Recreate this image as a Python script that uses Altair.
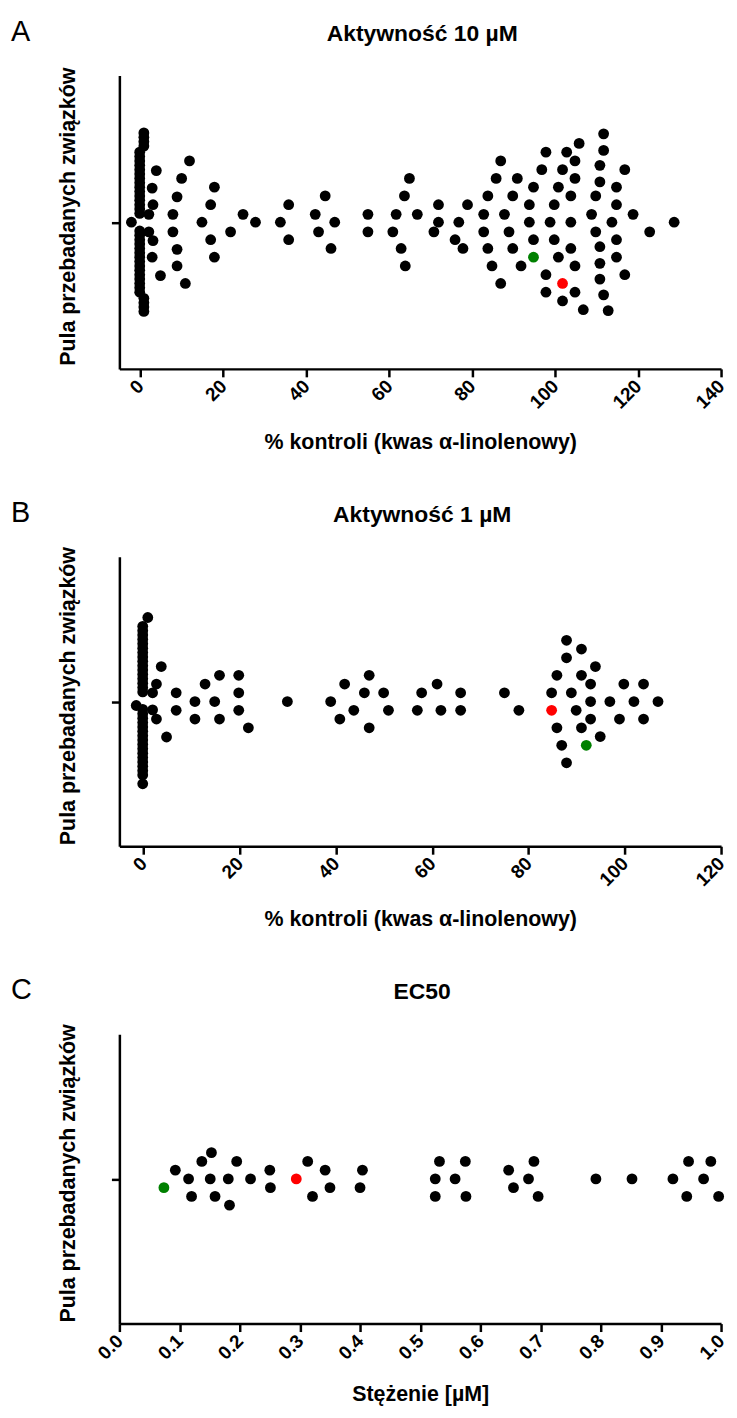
import altair as alt
import pandas as pd

FONT = "Liberation Sans"
ROW_PX = 8.8  # vertical pixel size of one swarm row step
W = 605

# ---------------- Panel A: Aktywność 10 µM ----------------
# compounds stacked at ~0 %
a_col_x = [-0.1] * 30 + [0.9] * 8
a_col_row = [8.0, 7.5, 7.0, 6.5, 6.0, 5.5, 5.0, 4.5, 4.0, 3.5, 3.0, 2.5, 2.0, 1.5, 1.0,
             -1.0, -1.5, -2.0, -2.5, -3.0, -3.5, -4.0, -4.5, -5.0, -5.5, -6.0, -6.5, -7.0, -7.5, -8.0,
             10.2, 9.7, 9.2, 8.7, -8.7, -9.2, -9.7, -10.2]
a_x = [3.9, 2.9, 3.1, 2.1, 2.1, 3.1, 2.9, 4.9, -2.1,
       11.9, 10.0, 8.9, 7.9, 7.9, 8.9, 8.9, 10.9,
       17.9, 17.0, 14.9, 17.0, 17.9, 21.8, 24.8, 27.8,
       33.8, 35.8, 35.8, 42.2, 43.0, 44.6, 46.9, 46.0,
       54.9, 54.9, 61.7, 60.9, 63.7, 64.9, 66.8, 62.9, 63.9,
       71.9, 71.9, 70.8, 76.8, 75.9, 78.9, 77.8,
       83.8, 82.8, 82.8, 83.8, 84.8, 85.8, 86.9, 86.9, 87.8, 88.9,
       89.8, 89.8, 90.9, 91.8, 93.8, 93.8, 94.8, 94.8,
       96.8, 97.8, 97.8, 97.8, 98.8, 99.8, 99.8, 100.8, 100.8,
       101.8, 101.8, 102.8, 103.8, 103.8, 103.8,
       104.8, 104.8, 104.8, 104.8, 105.8, 106.8,
       108.8, 109.8, 109.8, 110.8, 110.8, 110.8, 110.8, 110.8,
       111.7, 111.7, 111.7, 112.8, 113.7,
       114.8, 114.8, 114.8, 114.8, 116.8, 116.8, 118.8, 122.8, 128.7]
a_row = [5.9, 3.9, 2.0, 0.9, -1.1, -2.1, -4.0, -6.1, 0.0,
         7.0, 5.0, 2.9, 0.9, -1.1, -3.1, -5.0, -7.0,
         4.0, 2.0, 0.0, -2.0, -4.0, -1.1, 0.9, 0.0,
         0.0, 2.0, -2.0, 0.9, -1.1, 3.0, 0.0, -3.0,
         0.9, -1.1, 0.9, -1.1, 3.0, 5.0, 0.9, -3.0, -5.0,
         2.0, 0.0, -1.1, 0.0, -2.0, 2.0, -3.0,
         3.0, 0.9, -1.1, -3.0, -5.0, 5.0, 7.0, -7.0, 0.9, -1.1,
         3.0, -3.0, 5.0, -5.0, 2.0, 0.0, 4.0, -2.0,
         6.0, 8.0, -6.0, -8.0, 0.0, 2.0, -2.0, 4.0, -4.0,
         6.0, -9.0, 8.0, 3.0, 0.0, -3.0,
         7.0, 5.0, -5.0, -8.0, 9.0, -10.0,
         0.9, 3.0, -1.1, 6.5, 4.6, -2.8, -4.7, -6.5,
         10.1, 8.2, -8.3, -10.1, 0.0,
         4.0, 2.0, -2.0, -4.0, 6.0, -6.0, 0.9, -1.1, 0.0]
a_red = (101.8, -7.0)
a_green = (94.8, -4.0)

# ---------------- Panel B: Aktywność 1 µM ----------------
b_col_x = [-0.15] * 33 + [0.9]
b_col_row = [8.6, 8.1, 7.6, 7.1, 6.6, 6.1, 5.6, 5.1, 4.6, 4.1, 3.6, 3.1, 2.6, 2.1, 1.6, 1.1,
             -0.9, -1.4, -1.9, -2.4, -2.9, -3.4, -3.9, -4.4, -4.9, -5.4, -5.9, -6.4, -6.9,
             -7.4, -7.9, -8.4, -9.4, 9.6]
b_x = [-1.5, 3.7, 2.7, 1.9, 1.9, 2.7, 4.8, 6.8, 6.8, 10.7, 10.7, 12.8, 14.8,
       15.8, 15.8, 19.8, 19.8, 19.8, 21.8, 29.9,
       38.9, 40.8, 41.8, 43.7, 45.9, 46.9, 46.9, 49.9, 50.9,
       56.9, 57.8, 61.0, 61.8, 65.9, 65.9, 75.0, 78.0,
       84.8, 85.9, 85.9, 86.9, 87.9, 87.9, 87.9, 88.9, 89.9,
       91.0, 91.0, 91.0, 92.9, 92.9, 92.9, 93.9, 94.9,
       96.9, 98.9, 99.8, 101.9, 103.9, 103.9, 106.9]
b_row = [-0.45, 4.0, 2.0, 1.0, -0.95, -2.0, -4.05, 1.0, -1.0, 0.0, -2.0, 2.0, 0.0,
         3.0, -2.0, 3.0, 1.0, -1.0, -3.0, 0.0,
         0.0, -2.0, 2.0, -1.0, 1.0, 3.0, -3.0, 1.0, -1.0,
         -1.0, 1.0, 2.0, -1.0, 1.0, -1.0, 1.0, -1.0,
         1.0, 3.0, -3.0, -5.0, 7.0, 5.0, -7.0, 1.0, -1.0,
         6.0, 3.0, -3.0, 2.0, 0.0, -2.0, 4.0, -4.0,
         0.0, -2.0, 2.0, 0.0, 2.0, -2.0, 0.0]
b_red = (84.8, -1.0)
b_green = (92.0, -5.0)

# ---------------- Panel C: EC50 ----------------
c_x = [0.093, 0.115, 0.120, 0.137, 0.151, 0.153, 0.159, 0.181, 0.183, 0.195,
       0.218, 0.250, 0.251, 0.313, 0.321, 0.342, 0.350, 0.404, 0.400,
       0.532, 0.525, 0.525, 0.558, 0.575, 0.576,
       0.647, 0.655, 0.680, 0.689, 0.696,
       0.792, 0.852, 0.920, 0.943, 0.946, 0.971, 0.983, 0.996]
c_row = [1, 0, -2, 2, 0, 3, -2, 0, -3, 2,
         0, 1, -1, 2, -2, 1, -1, 1, -1,
         2, 0, -2, 0, 2, -2,
         1, -1, 0, 2, -2,
         0, 0, 0, -2, 2, 0, 2, -2]
c_red = (0.294, 0)
c_green = (0.074, -1)

Y_TITLE = "Pula przebadanych związków"


def frame(col_x, col_row, xs, rows, red, green):
    x = list(col_x) + list(xs) + [red[0], green[0]]
    r = list(col_row) + list(rows) + [red[1], green[1]]
    g = ["k"] * (len(col_x) + len(xs)) + ["r", "g"]
    return pd.DataFrame({"x": x, "row": r, "grp": g})


def panel(df, title, letter, xtitle, xdom, xvals, xfmt, h, xty):
    half = h / 2 / ROW_PX
    pts = alt.Chart(df).mark_circle(size=118, opacity=1).encode(
        x=alt.X("x:Q",
                scale=alt.Scale(domain=xdom, nice=False, zero=False),
                axis=alt.Axis(values=xvals, format=xfmt, title=xtitle,
                              labelAngle=-45, labelAlign="right", labelBaseline="middle",
                              labelPadding=6, labelFlush=False, labelOverlap=False,
                              titleY=xty, titleBaseline="middle")),
        y=alt.Y("row:Q",
                scale=alt.Scale(domain=[-half, half], nice=False, zero=False),
                axis=alt.Axis(values=[0], labels=False, title=Y_TITLE,
                              titleX=-51, titleY=h / 2 - 6, titleBaseline="middle")),
        color=alt.Color("grp:N",
                        scale=alt.Scale(domain=["k", "r", "g"],
                                        range=["#000000", "#ff0000", "#008000"]),
                        legend=None),
    )
    lab = alt.Chart(pd.DataFrame({"t": [letter]})).mark_text(
        fontSize=29, font=FONT, align="left", baseline="middle", color="black"
    ).encode(x=alt.value(-109), y=alt.value(-44), text="t:N")
    ttl = alt.Chart(pd.DataFrame({"t": [title]})).mark_text(
        fontSize=23, font=FONT, fontWeight="bold", align="center", baseline="middle",
        color="black"
    ).encode(x=alt.value(W / 2 + 2), y=alt.value(-42), text="t:N")
    return alt.layer(pts, lab, ttl).properties(width=W, height=h)


pA = panel(frame(a_col_x, a_col_row, a_x, a_row, a_red, a_green),
           "Aktywność 10 µM", "A", "% kontroli (kwas α-linolenowy)",
           [-5, 140], [0, 20, 40, 60, 80, 100, 120, 140], "d", 295, 74)
pB = panel(frame(b_col_x, b_col_row, b_x, b_row, b_red, b_green),
           "Aktywność 1 µM", "B", "% kontroli (kwas α-linolenowy)",
           [-5, 120], [0, 20, 40, 60, 80, 100, 120], "d", 291, 74)
pC = panel(frame([], [], c_x, c_row, c_red, c_green),
           "EC50", "C", "Stężenie [µM]",
           [0, 1], [0, 0.1, 0.2, 0.3, 0.4, 0.5, 0.6, 0.7, 0.8, 0.9, 1.0], ".1f", 291, 71)

chart = alt.vconcat(pA, pB, pC, spacing=46).properties(
    padding={"left": 3, "top": 6, "right": 0, "bottom": 0}
).configure_view(stroke=None).configure_axis(
    grid=False, domainColor="black", domainWidth=2.5, tickColor="black",
    tickWidth=2.5, tickSize=8, labelFont=FONT, labelFontSize=19,
    labelFontWeight="bold", labelColor="black", titleFont=FONT,
    titleFontSize=21.5, titleFontWeight="bold", titleColor="black",
)

chart.save("out.html", embed_options={"renderer": "svg", "actions": False})
